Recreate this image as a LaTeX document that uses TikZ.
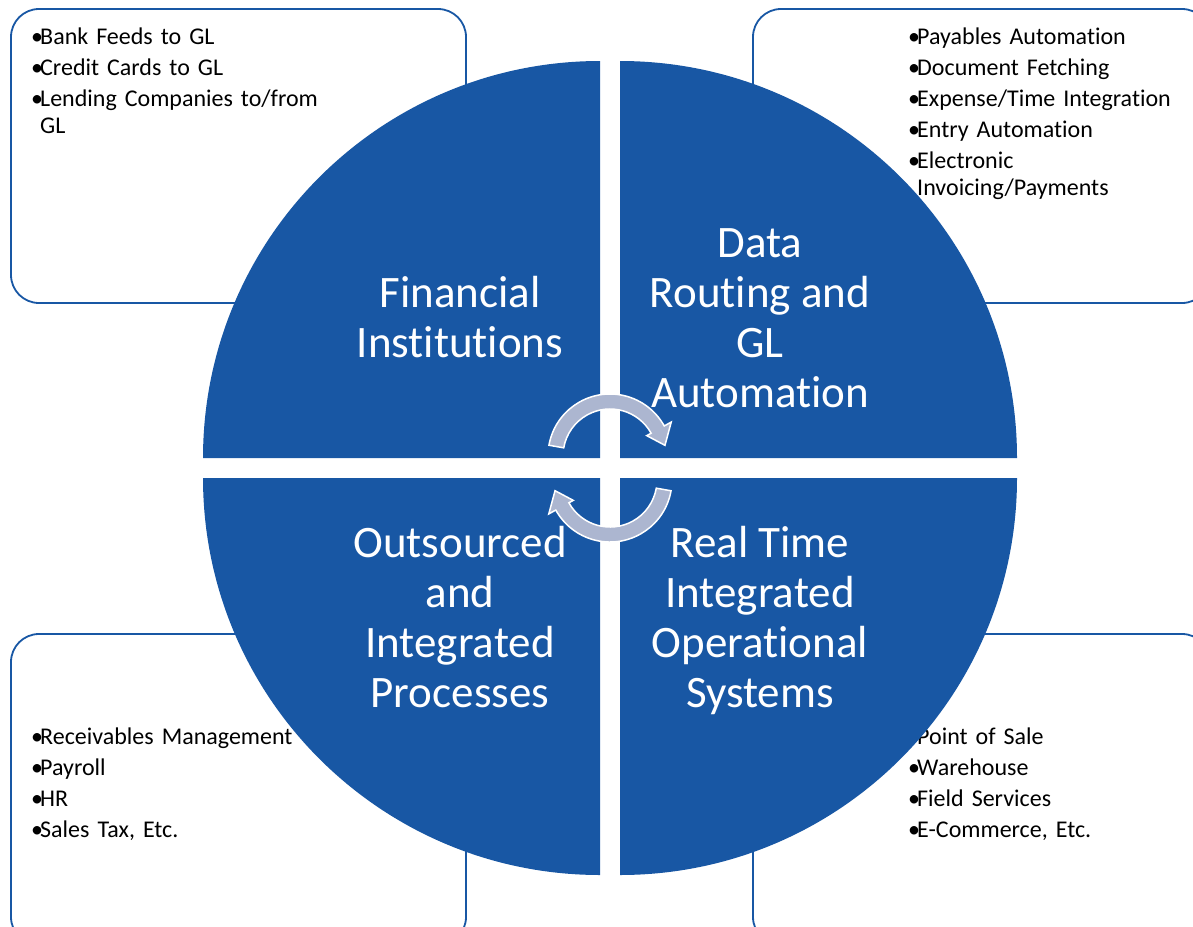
\documentclass[tikz,border=0pt]{standalone}
\usepackage{fontspec}
\setmainfont{Carlito}[Ligatures=NoCommon]
\usetikzlibrary{calc}

\definecolor{quadblue}{RGB}{24,87,164}
\definecolor{arrowgrey}{RGB}{172,182,208}

% one bullet line of a side list
\newcommand{\bitem}[1]{\par\parskip=4pt\noindent\makebox[9pt][l]{\textbullet}\parbox[t]{300pt}{#1}}

\begin{document}
\begin{tikzpicture}[x=1pt,y=-1pt,
  infobox/.style={draw=quadblue, line width=1.8pt, rounded corners=28pt, fill=white},
  quarter/.style={fill=quadblue},
  quadlabel/.style={text=white, align=center, inner sep=0pt,
    font=\fontsize{45}{50}\selectfont},
  itemlist/.style={anchor=north west, inner sep=0pt, text width=320pt, align=left,
    font=\fontsize{24}{27}\selectfont},
  cyclearrow/.style={fill=arrowgrey, draw=white, line width=1.5pt}]
  \useasboundingbox (0,0) rectangle (1193,926);
  \clip (0,0) rectangle (1193,926);

  % side boxes
  \draw[infobox] (11,9) rectangle (466,303);
  \draw[infobox] (753,9) rectangle (1210,303);
  \draw[infobox] (11,634) rectangle (466,945);
  \draw[infobox] (753,634) rectangle (1210,945);

  \node[itemlist] (finList) at (31,13) {%
    \bitem{Bank Feeds to GL}
    \bitem{Credit Cards to GL}
    \bitem{Lending Companies to/from\newline GL}};
  \node[itemlist] (dataList) at (908,13) {%
    \bitem{Payables Automation}
    \bitem{Document Fetching}
    \bitem{Expense/Time Integration}
    \bitem{Entry Automation}
    \bitem{Electronic\newline Invoicing/Payments}};
  \node[itemlist] (outList) at (31,713) {%
    \bitem{Receivables Management}
    \bitem{Payroll}
    \bitem{HR}
    \bitem{Sales Tax, Etc.}};
  \node[itemlist] (realList) at (908,713) {%
    \bitem{Point of Sale}
    \bitem{Warehouse}
    \bitem{Field Services}
    \bitem{E-Commerce, Etc.}};

  % the four quarters
  \fill[quarter] (600,458) -- (203,458) arc[start angle=180, end angle=270, radius=397] -- cycle;
  \fill[quarter] (620,458) -- (620,61) arc[start angle=270, end angle=360, radius=397] -- cycle;
  \fill[quarter] (620,478) -- (1017,478) arc[start angle=0, end angle=90, radius=397] -- cycle;
  \fill[quarter] (600,478) -- (600,875) arc[start angle=90, end angle=180, radius=397] -- cycle;

  \node[quadlabel] (fin) at (460,317) {Financial\\Institutions};
  \node[quadlabel] (data) at (760,318) {Data\\Routing and\\GL\\Automation};
  \node[quadlabel] (out) at (460,617) {Outsourced\\and\\Integrated\\Processes};
  \node[quadlabel] (real) at (760,620) {Real Time\\Integrated\\Operational\\Systems};

  % circular arrows in the middle
  \coordinate (hub) at (610,468);
  \foreach \turn in {0,180} {
    \begin{scope}[rotate around={\turn:(hub)}]
      \coordinate (c) at (610,456);
      \filldraw[cyclearrow] ($(c)+(190:62)$) arc[start angle=190, end angle=331, radius=62]
        -- ($(c)+(331:70)$) -- ($(c)+(349:56)$) -- ($(c)+(331:42)$)
        -- ($(c)+(331:47)$) arc[start angle=331, end angle=190, radius=47] -- cycle;
    \end{scope}
  }
\end{tikzpicture}
\end{document}
